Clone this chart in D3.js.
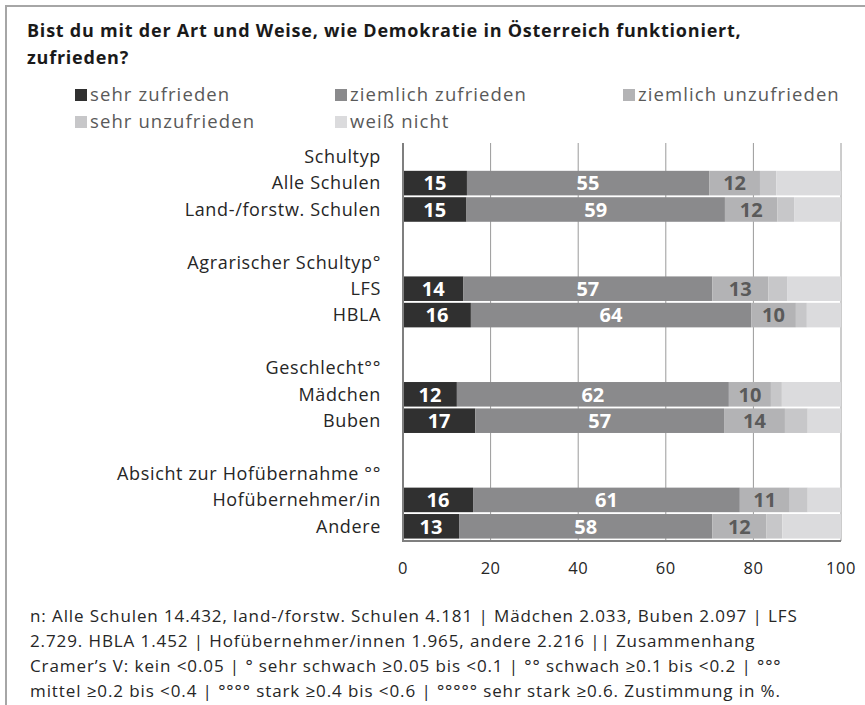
<!DOCTYPE html>
<html>
<head>
<meta charset="utf-8">
<script src="https://cdn.jsdelivr.net/npm/d3@7"></script>
<style>
  body { margin: 0; background: #fff; }
  text { font-family: "Open Sans", Lato, sans-serif; }
</style>
</head>
<body>
<div id="chart"></div>
<script>
// groups + categories (each group gets a heading row and a blank row after it)
var groups = ["Schultyp", "Agrarischer Schultyp°", "Geschlecht°°", "Absicht zur Hofübernahme °°"];
var categories = ["Alle Schulen", "Land-/forstw. Schulen", "LFS", "HBLA", "Mädchen", "Buben", "Hofübernehmer/in", "Andere"];
var categoryGroup = [0, 0, 1, 1, 2, 2, 3, 3];

var seriesNames = ["sehr zufrieden", "ziemlich zufrieden", "ziemlich unzufrieden", "sehr unzufrieden", "weiß nicht"];
var sehrZufrieden = [14.6, 14.5, 13.8, 15.5, 12.3, 16.5, 16.0, 12.8];
var ziemlichZufrieden = [55.3, 59.0, 56.8, 64.0, 62.1, 56.8, 60.9, 57.8];
var ziemlichUnzufrieden = [11.6, 12.0, 12.8, 10.2, 9.6, 13.9, 11.4, 12.4];
var sehrUnzufrieden = [3.7, 3.8, 4.4, 2.5, 2.5, 5.2, 4.1, 3.6];
var weissNicht = [14.8, 10.7, 12.2, 7.8, 13.5, 7.6, 7.6, 13.4];

var xTicks = [0, 20, 40, 60, 80, 100];

var footnote = [
  "n: Alle Schulen 14.432, land-/forstw. Schulen  4.181 | Mädchen 2.033, Buben 2.097 | LFS",
  "2.729. HBLA 1.452 | Hofübernehmer/innen 1.965, andere 2.216 || Zusammenhang",
  "Cramer’s V: kein <0.05 | ° sehr schwach ≥0.05 bis <0.1 | °° schwach ≥0.1 bis <0.2 | °°°",
  "mittel ≥0.2 bis <0.4 | °°°° stark ≥0.4 bis <0.6 | °°°°° sehr stark ≥0.6. Zustimmung in %."
];

var colors = ["#303030", "#8a8a8c", "#b3b3b5", "#c7c7c9", "#dbdbdd"];
var labelColors = ["#fff", "#fff", "#5a5a5a"];

var width = 865, height = 705;

// build the rows: heading, categories, blank
var rows = [];
groups.forEach(function (g, gi) {
  rows.push({ key: "g" + gi, label: g, type: "head" });
  categories.forEach(function (c, ci) {
    if (categoryGroup[ci] === gi) rows.push({ key: "c" + ci, label: c, type: "cat", idx: ci });
  });
  if (gi < groups.length - 1) rows.push({ key: "s" + gi, label: "", type: "blank" });
});

var table = categories.map(function (c, i) {
  return {
    key: "c" + i,
    "sehr zufrieden": sehrZufrieden[i],
    "ziemlich zufrieden": ziemlichZufrieden[i],
    "ziemlich unzufrieden": ziemlichUnzufrieden[i],
    "sehr unzufrieden": sehrUnzufrieden[i],
    "weiß nicht": weissNicht[i]
  };
});

var x = d3.scaleLinear().domain([0, 100]).range([403, 841]);
var y = d3.scaleBand().domain(rows.map(function (r) { return r.key; })).range([143.5, 539.5]).paddingInner(0.07).paddingOuter(0.035);

var svg = d3.select("#chart").append("svg").attr("width", width).attr("height", height);

// frame
svg.append("path").attr("d", "M6," + height + "V6H" + width).attr("fill", "none").attr("stroke", "#a6a6a6").attr("stroke-width", 2);

// title
var title = svg.append("text").attr("x", 27).attr("y", 37).attr("font-size", 18).attr("font-weight", "bold")
  .attr("letter-spacing", 0.77).attr("fill", "#1a1a1a");
title.append("tspan").attr("x", 27).text("Bist du mit der Art und Weise, wie Demokratie in Österreich funktioniert,");
title.append("tspan").attr("x", 27).attr("dy", 27).text("zufrieden?");

// legend
var legendPos = [[75, 95], [335, 95], [623, 95], [75, 122], [335, 122]];
var legend = svg.selectAll(".legend").data(seriesNames).enter().append("g").attr("class", "legend").attr("transform", function (d, i) {
  return "translate(" + legendPos[i][0] + "," + legendPos[i][1] + ")";
});
legend.append("rect").attr("x", 0).attr("y", -6).attr("width", 12).attr("height", 12).attr("fill", function (d, i) { return colors[i]; });
legend.append("text").attr("x", 15).attr("dy", "0.35em").attr("font-size", 18.5).attr("letter-spacing", 1.1)
  .attr("fill", "#595959").text(function (d) { return d; });

// gridlines
svg.append("g").selectAll("line").data(xTicks.slice(1)).enter().append("line")
  .attr("x1", function (d) { return x(d); }).attr("x2", function (d) { return x(d); })
  .attr("y1", 143).attr("y2", 541).attr("stroke", "#9a9a9a").attr("stroke-width", 1);

// stacked bars
var stack = d3.stack().keys(seriesNames);
var stacked = stack(table);

var layer = svg.append("g").selectAll("g").data(stacked).enter().append("g").attr("fill", function (d, i) { return colors[i]; });
layer.selectAll("rect").data(function (d) { return d; }).enter().append("rect")
  .attr("x", function (d) { return x(d[0]); })
  .attr("y", function (d) { return y(d.data.key); })
  .attr("width", function (d) { return x(d[1]) - x(d[0]); })
  .attr("height", y.bandwidth());

// value labels on first three series
var labelLayer = svg.append("g").selectAll("g").data(stacked.slice(0, 3)).enter().append("g").attr("fill", function (d, i) { return labelColors[i]; });
labelLayer.selectAll("text").data(function (d) { return d; }).enter().append("text")
  .attr("x", function (d) { return (x(d[0]) + x(d[1])) / 2; })
  .attr("y", function (d) { return y(d.data.key) + y.bandwidth() / 2; })
  .attr("dy", "0.36em").attr("text-anchor", "middle").attr("font-size", 20).attr("font-weight", "bold")
  .text(function (d) { return Math.round(d[1] - d[0]); });

// axes lines
svg.append("line").attr("x1", x(0)).attr("x2", x(0)).attr("y1", 143).attr("y2", 541).attr("stroke", "#7f7f7f").attr("stroke-width", 2);
svg.append("line").attr("x1", x(0) - 1).attr("x2", x(100)).attr("y1", 541).attr("y2", 541).attr("stroke", "#7f7f7f").attr("stroke-width", 2);

// row labels
svg.append("g").selectAll("text").data(rows.filter(function (r) { return r.label; })).enter().append("text")
  .attr("x", 381).attr("y", function (r) { return y(r.key) + y.bandwidth() / 2; })
  .attr("dy", "0.35em").attr("text-anchor", "end").attr("font-size", 18).attr("letter-spacing", 0.65)
  .attr("fill", "#262626")
  .text(function (r) { return r.label; });

// tick labels
svg.append("g").selectAll("text").data(xTicks).enter().append("text")
  .attr("x", function (d) { return x(d); }).attr("y", 568).attr("dy", "0.35em")
  .attr("text-anchor", "middle").attr("font-size", 16.5).attr("letter-spacing", 0.5).attr("fill", "#262626")
  .text(function (d) { return d; });

// footnote
svg.append("g").selectAll("text").data(footnote).enter().append("text")
  .attr("x", 30).attr("y", function (d, i) { return 622 + i * 25; })
  .attr("font-size", 17).attr("letter-spacing", 0.9).attr("fill", "#262626")
  .text(function (d) { return d; });
</script>
</body>
</html>
